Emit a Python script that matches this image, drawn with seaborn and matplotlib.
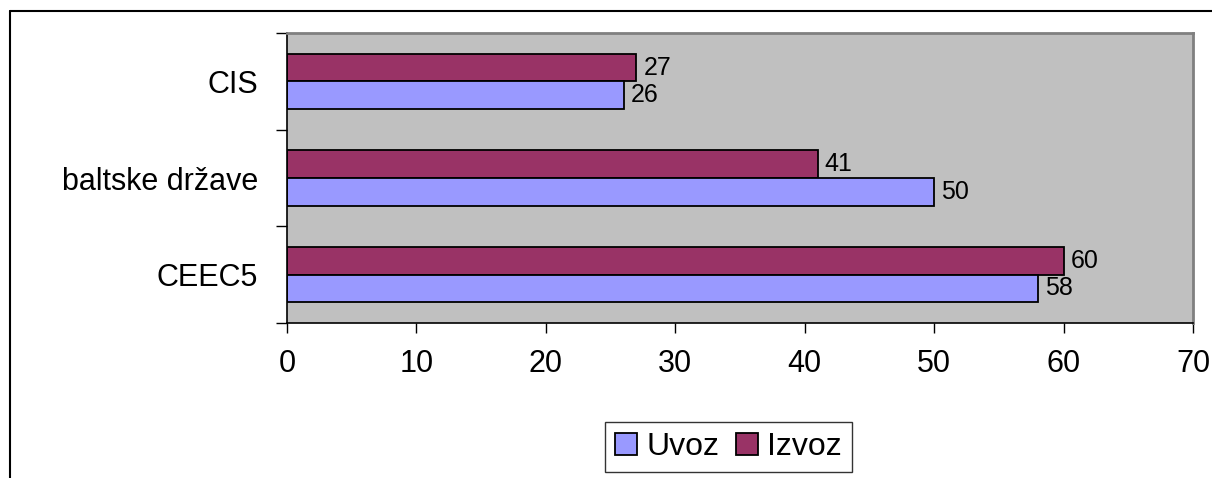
import matplotlib
matplotlib.use("Agg")
import matplotlib.pyplot as plt
import seaborn as sns
import pandas as pd
from matplotlib.patches import Patch
from matplotlib.lines import Line2D

categories = ["CIS", "baltske države", "CEEC5"]
uvoz = [26, 50, 58]
izvoz = [27, 41, 60]
series_names = ["Uvoz", "Izvoz"]
colors = {"Uvoz": "#9999FF", "Izvoz": "#993366"}
x_ticks = [0, 10, 20, 30, 40, 50, 60, 70]

sns.set_theme(style="white")
plt.rcParams["font.family"] = ["Liberation Sans", "DejaVu Sans"]
plt.rcParams["text.color"] = "black"
plt.rcParams["xtick.color"] = "black"
plt.rcParams["ytick.color"] = "black"

df = pd.DataFrame({
    "region": categories * 2,
    "value": izvoz + uvoz,
    "series": ["Izvoz"] * 3 + ["Uvoz"] * 3,
})

fig = plt.figure(figsize=(12.12, 4.78), dpi=100)
ax = fig.add_axes([287 / 1212, 1 - 323 / 478, (1193 - 287) / 1212, (323 - 33) / 478])
ax.set_facecolor("#C0C0C0")

sns.barplot(data=df, y="region", x="value", hue="series", order=categories,
            hue_order=["Izvoz", "Uvoz"], palette=colors, orient="h",
            width=0.57, edgecolor="black", linewidth=1.3, saturation=1,
            ax=ax, legend=False)

for cont in ax.containers:
    ax.bar_label(cont, labels=[f"{v:g}" for v in cont.datavalues], padding=5,
                 fontsize=18, color="black")

ax.set_xlim(0, 70)
ax.set_ylim(2.5, -0.5)
ax.set_xticks(x_ticks)
ax.set_xticklabels([str(t) for t in x_ticks], fontsize=22)
ax.tick_params(axis="x", which="major", length=7, width=1, color="black",
               labelcolor="black", pad=12, bottom=True, direction="out")

ax.set_yticks([-0.5, 0.5, 1.5, 2.5])
ax.set_yticklabels([])
ax.set_yticks([0, 1, 2], minor=True)
ax.set_yticklabels(categories, minor=True, fontsize=22)
ax.tick_params(axis="y", which="major", length=8, width=1, color="black",
               left=True, direction="out")
ax.tick_params(axis="y", which="minor", length=0, pad=21, left=True,
               labelcolor="black")

ax.set_xlabel("")
ax.set_ylabel("")
for side in ["left", "bottom"]:
    ax.spines[side].set_color("black")
    ax.spines[side].set_linewidth(1.2)
for side in ["top", "right"]:
    ax.spines[side].set_visible(True)
    ax.spines[side].set_color("#808080")
    ax.spines[side].set_linewidth(2)

handles = [Patch(facecolor=colors[s], edgecolor="black", linewidth=1.3) for s in series_names]
leg = fig.legend(handles, series_names, loc="center", bbox_to_anchor=(0.601, 0.065),
                 ncol=2, fontsize=23, frameon=True, fancybox=False,
                 handlelength=0.7, handleheight=0.7, handletextpad=0.3,
                 columnspacing=0.5, borderpad=0.3, edgecolor="black")
leg.get_frame().set_linewidth(1.0)
for t in leg.get_texts():
    t.set_color("black")

fig.add_artist(Line2D([10 / 1212, 1.0], [1 - 11 / 478, 1 - 11 / 478],
                      transform=fig.transFigure, color="black", linewidth=1.5))
fig.add_artist(Line2D([10 / 1212, 10 / 1212], [0, 1 - 11 / 478],
                      transform=fig.transFigure, color="black", linewidth=1.5))

fig.savefig("out.png", dpi=100, facecolor="white")
